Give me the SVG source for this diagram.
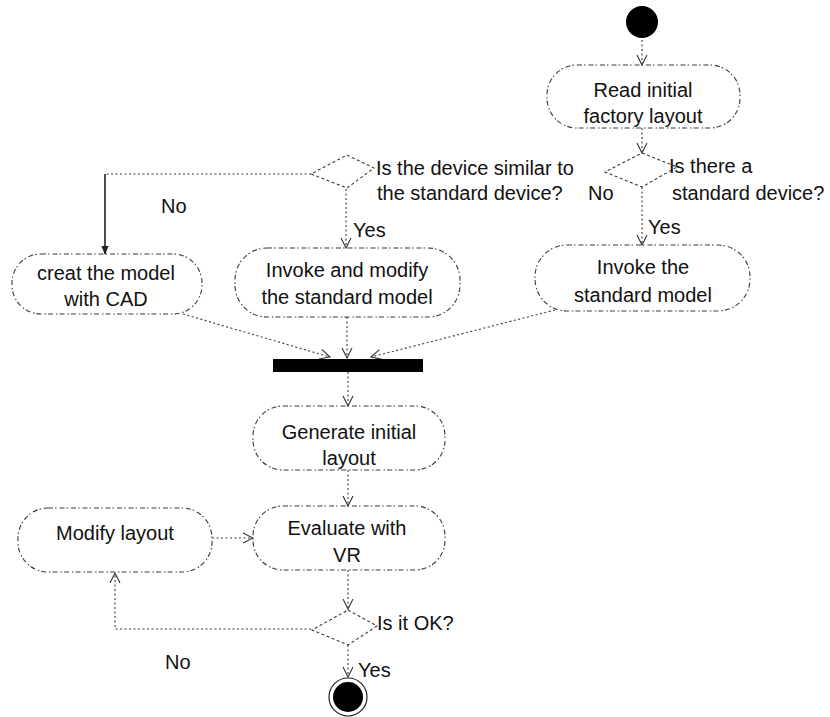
<svg xmlns="http://www.w3.org/2000/svg" width="830" height="717" viewBox="0 0 830 717">
  <defs>
    <style>
      .act { fill: none; stroke: #3a3a3a; stroke-width: 1.1; stroke-dasharray: 5 2 1.5 3; }
      .dec { fill: none; stroke: #3a3a3a; stroke-width: 1.1; stroke-dasharray: 3 2.5; }
      .flow { fill: none; stroke: #3a3a3a; stroke-width: 1.1; stroke-dasharray: 2 2.5; }
      .solid { fill: none; stroke: #222; stroke-width: 1.6; }
      text { font-family: "Liberation Sans", Arial, sans-serif; font-size: 20px; fill: #111; }
      .c { text-anchor: middle; }
    </style>
    <marker id="open" viewBox="0 0 12 12" refX="11" refY="6" markerWidth="12" markerHeight="12" markerUnits="userSpaceOnUse" orient="auto">
      <path d="M1,1 L11,6 L1,11" fill="none" stroke="#333" stroke-width="1.1"/>
    </marker>
    <marker id="filled" viewBox="0 0 10 10" refX="9" refY="5" markerWidth="9" markerHeight="9" markerUnits="userSpaceOnUse" orient="auto">
      <path d="M0,1 L10,5 L0,9 Z" fill="#222"/>
    </marker>
  </defs>

  <!-- connectors -->
  <g id="connectors">
    <line class="flow" x1="642" y1="40" x2="642" y2="65" marker-end="url(#open)"/>
    <line class="flow" x1="642" y1="128" x2="642" y2="153" marker-end="url(#open)"/>
    <line class="flow" x1="642" y1="187" x2="642" y2="245" marker-end="url(#open)"/>
    <polyline class="flow" points="311,174 105,174"/>
    <line class="solid" x1="105" y1="174" x2="105" y2="254" marker-end="url(#filled)"/>
    <line class="flow" x1="346" y1="189" x2="346" y2="248" marker-end="url(#open)"/>
    <line class="flow" x1="183" y1="314" x2="330" y2="357" marker-end="url(#open)"/>
    <line class="flow" x1="347" y1="317" x2="347" y2="358" marker-end="url(#open)"/>
    <line class="flow" x1="555" y1="310" x2="371" y2="357" marker-end="url(#open)"/>
    <line class="flow" x1="348" y1="372" x2="348" y2="406" marker-end="url(#open)"/>
    <line class="flow" x1="348" y1="470" x2="348" y2="506" marker-end="url(#open)"/>
    <line class="flow" x1="212" y1="538" x2="253" y2="538" marker-end="url(#open)"/>
    <line class="flow" x1="348" y1="570" x2="348" y2="609" marker-end="url(#open)"/>
    <polyline class="flow" points="311,629 115,629 115,573" marker-end="url(#open)"/>
    <line class="flow" x1="348" y1="645" x2="348" y2="677" marker-end="url(#open)"/>
  </g>

  <!-- initial state -->
  <g id="start">
    <circle cx="642" cy="22" r="16" fill="#000"/>
  </g>

  <g id="read-layout">
    <rect class="act" x="547" y="65" width="193" height="63" rx="30" ry="30"/>
    <text class="c" x="643" y="97">Read initial</text>
    <text class="c" x="643" y="123">factory layout</text>
  </g>

  <g id="standard-device-decision">
    <polygon class="dec" points="642,153 677,167 642,187 605,172"/>
    <text x="669" y="173">Is there a</text>
    <text x="672" y="200">standard device?</text>
    <text x="588" y="200">No</text>
    <text x="648" y="234">Yes</text>
  </g>

  <g id="similar-device-decision">
    <polygon class="dec" points="347,155 374,168 347,188 311,174"/>
    <text x="376" y="175">Is the device similar to</text>
    <text x="377" y="200">the standard device?</text>
    <text x="161" y="213">No</text>
    <text x="353" y="237">Yes</text>
  </g>

  <g id="create-model">
    <rect class="act" x="12" y="254" width="190" height="60" rx="29" ry="29"/>
    <text class="c" x="106" y="280">creat the model</text>
    <text class="c" x="106" y="306">with CAD</text>
  </g>

  <g id="invoke-modify">
    <rect class="act" x="235" y="248" width="225" height="69" rx="32" ry="32"/>
    <text class="c" x="347" y="277">Invoke and modify</text>
    <text class="c" x="347" y="304">the standard model</text>
  </g>

  <g id="invoke-standard">
    <rect class="act" x="535" y="245" width="215" height="66" rx="32" ry="32"/>
    <text class="c" x="643" y="274">Invoke the</text>
    <text class="c" x="643" y="302">standard model</text>
  </g>

  <g id="fork">
    <rect x="273" y="359" width="150" height="13" fill="#000"/>
  </g>

  <g id="generate-layout">
    <rect class="act" x="253" y="406" width="192" height="64" rx="30" ry="30"/>
    <text class="c" x="349" y="439">Generate initial</text>
    <text class="c" x="349" y="465">layout</text>
  </g>

  <g id="evaluate-vr">
    <rect class="act" x="253" y="506" width="192" height="64" rx="30" ry="30"/>
    <text class="c" x="347" y="535">Evaluate with</text>
    <text class="c" x="347" y="562">VR</text>
  </g>

  <g id="modify-layout">
    <rect class="act" x="18" y="508" width="194" height="64" rx="30" ry="30"/>
    <text class="c" x="115" y="540">Modify layout</text>
  </g>

  <g id="ok-decision">
    <polygon class="dec" points="348,610 377,626 348,645 312,630"/>
    <text x="377" y="630">Is it OK?</text>
    <text x="165" y="669">No</text>
    <text x="358" y="677">Yes</text>
  </g>

  <!-- final state -->
  <g id="end">
    <circle cx="348" cy="697" r="19" fill="none" stroke="#222" stroke-width="1.2"/>
    <circle cx="348" cy="697" r="15" fill="#000"/>
  </g>
</svg>
